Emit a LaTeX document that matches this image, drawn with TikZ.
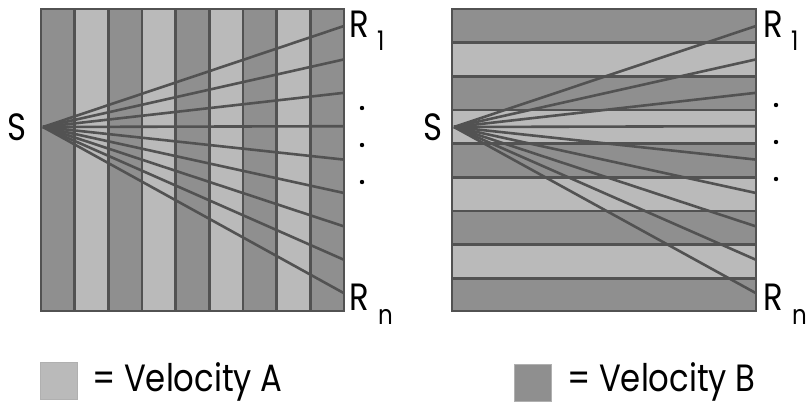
\documentclass[tikz,border=0pt]{standalone}
\usepackage{fontspec}
\setmainfont{Poppins}
\usetikzlibrary{positioning}

\definecolor{velA}{gray}{0.73}
\definecolor{velB}{gray}{0.56}
\definecolor{raygray}{gray}{0.32}

\tikzset{
  layer/.style={draw=raygray, line width=2.6pt},
  ray/.style={draw=raygray, line width=2.6pt},
  lab/.style={font=\fontsize{38}{38}\selectfont, inner sep=0pt, xscale=0.85},
  sublab/.style={font=\fontsize{27}{27}\selectfont, inner sep=0pt, xscale=0.85},
  keybox/.style={draw=velB!70, line width=0.6pt, minimum size=37pt, inner sep=0pt}
}

\begin{document}
\begin{tikzpicture}[x=1pt, y=-1pt]
    \useasboundingbox (0,0) rectangle (808,405);

    % left model: vertical layers
    \foreach \i/\c in {0/velB,1/velA,2/velB,3/velA,4/velB,5/velA,6/velB,7/velA,8/velB}
        \fill[\c] (41+\i*33.67,9) rectangle (41+\i*33.67+33.67,311);
    \foreach \i in {1,...,8}
        \draw[layer] (41+\i*33.67,9) -- (41+\i*33.67,311);
    \coordinate (srcL) at (43,127);
    \foreach \i in {1,...,9} {
        \coordinate (rcvL\i) at (344,26+\i*33.4-33.4);
        \draw[ray] (srcL) -- (rcvL\i);
    }
    \draw[layer] (41,9) rectangle (344,311);

    % right model: horizontal layers
    \foreach \i/\c in {0/velB,1/velA,2/velB,3/velA,4/velB,5/velA,6/velB,7/velA,8/velB}
        \fill[\c] (452,9+\i*33.67) rectangle (756,9+\i*33.67+33.67);
    \foreach \i in {1,...,8}
        \draw[layer] (452,9+\i*33.67) -- (756,9+\i*33.67);
    \coordinate (srcR) at (454,127);
    \foreach \i in {1,...,9} {
        \coordinate (rcvR\i) at (756,26+\i*33.4-33.4);
        \draw[ray] (srcR) -- (rcvR\i);
    }
    \draw[layer] (452,9) rectangle (756,311);

    % labels
    \node[lab] (sL) at (17,127) {S};
    \node[lab] (sR) at (433,127) {S};
    \node[lab, anchor=base west] (rL1) at (349,37) {R};
    \node[sublab, anchor=base west] (iL1) at (377,50) {1};
    \node[lab, anchor=base west] (rLn) at (349,310) {R};
    \node[sublab, anchor=base west] (iLn) at (378,324) {n};
    \node[lab, anchor=base west] (rR1) at (763,37) {R};
    \node[sublab, anchor=base west] (iR1) at (791,50) {1};
    \node[lab, anchor=base west] (rRn) at (763,310) {R};
    \node[sublab, anchor=base west] (iRn) at (792,324) {n};
    \foreach \y in {108,145,182} {
        \fill (362,\y) circle (2.2);
        \fill (776,\y-3) circle (2.2);
    }

    % legend
    \node[keybox, fill=velA, anchor=north west] (keyA) at (40,362) {};
    \node[lab, anchor=base west] (txtA) at (92,391) {= Velocity A};
    \node[keybox, fill=velB, anchor=north west] (keyB) at (514,364) {};
    \node[lab, anchor=base west] (txtB) at (567,391) {= Velocity B};
\end{tikzpicture}
\end{document}
